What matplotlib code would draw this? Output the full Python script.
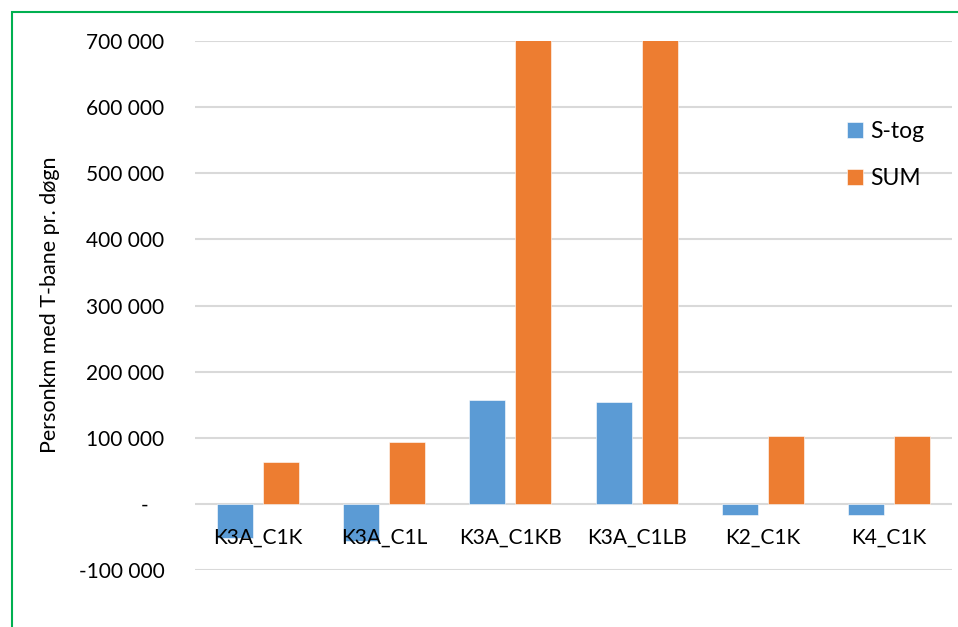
import matplotlib
matplotlib.use('Agg')
import matplotlib.pyplot as plt
from matplotlib import patches
import numpy as np

categories = ['K3A_C1K', 'K3A_C1L', 'K3A_C1KB', 'K3A_C1LB', 'K2_C1K', 'K4_C1K']
stog = [-51000, -56000, 157000, 154000, -17000, -17000]
total = [63000, 94000, 1150000, 1150000, 102000, 103000]
series_names = ['S-tog', 'SUM']
yticks = [-100000, 0, 100000, 200000, 300000, 400000, 500000, 600000, 700000]

BLUE = '#5B9BD5'
ORANGE = '#ED7D31'
GRID = '#D9D9D9'

plt.rcParams['font.family'] = ['Lato', 'DejaVu Sans']


def fmt(v):
    if v == 0:
        return '-   '
    return '{:,}'.format(int(v)).replace(',', ' ')


def main():
    fig = plt.figure(figsize=(9.58, 6.27), dpi=100)
    ax = fig.add_axes([195 / 958, 57 / 627, 757 / 958, 529 / 627])

    x = np.arange(len(categories))
    w = 0.285
    off = 0.182
    ax.bar(x - off, stog, w, color=BLUE, label=series_names[0],
           edgecolor='white', linewidth=0.4, zorder=2)
    ax.bar(x + off, total, w, color=ORANGE, label=series_names[1],
           edgecolor='white', linewidth=0.4, zorder=2)

    ax.set_xlim(-0.5, len(categories) - 0.5)
    ax.set_ylim(yticks[0], yticks[-1])
    ax.set_yticks(yticks)
    ax.set_yticklabels([fmt(v) for v in yticks], fontsize=15, color='#000000')
    ax.tick_params(axis='y', length=0, pad=22)
    ax.set_xticks([])
    ax.yaxis.grid(True, color=GRID, linewidth=1.5, zorder=0)
    ax.set_axisbelow(True)
    for s in ax.spines.values():
        s.set_visible(False)

    for i, c in enumerate(categories):
        ax.annotate(c, xy=(i, 0), xytext=(0, -24), textcoords='offset points',
                    ha='center', va='center', fontsize=15, zorder=5)

    fig.text(50 / 958, 1 - 305 / 627, 'Personkm med T-bane pr. døgn',
             rotation=90, ha='center', va='center', fontsize=15.5)

    ax.legend(loc='upper left', bbox_to_anchor=(826 / 958, 1 - 100 / 627),
              bbox_transform=fig.transFigure, frameon=False, fontsize=16.5,
              handlelength=0.7, handleheight=0.7, handletextpad=0.35,
              labelspacing=1.15)

    fig.patches.append(patches.Rectangle((12 / 958, -0.1), 1.2, 1 - 12 / 627 + 0.1,
                                         transform=fig.transFigure, fill=False,
                                         edgecolor='#00B050', linewidth=1.5))

    fig.savefig('out.png', dpi=100)
    plt.close('all')


if __name__ == '__main__':
    main()
